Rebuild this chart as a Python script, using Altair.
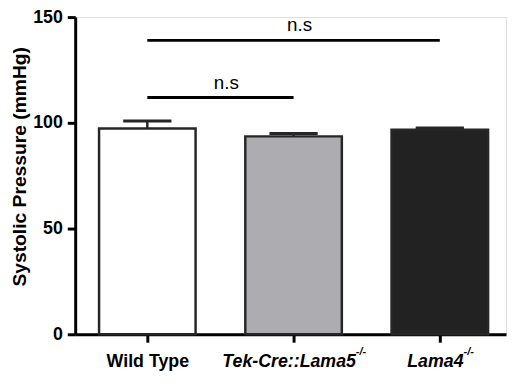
import altair as alt
import pandas as pd

# ---- data ----
categories = ["Wild Type", "Tek-Cre::Lama5", "Lama4"]
superscripts = ["", "-/-", "-/-"]
means = [97.3, 93.6, 96.7]
errors = [3.6, 1.4, 0.9]
fills = ["#ffffff", "#adacb1", "#222222"]

sig_from = [0, 0]
sig_to = [1, 2]
sig_y = [112, 139]
sig_labels = ["n.s", "n.s"]

y_ticks = [0, 50, 100, 150]

# ---- layout constants ----
BAR_HALF = 0.33
CAP_HALF = 0.165
FONT = "Liberation Sans"

bars = pd.DataFrame({
    "idx": list(range(len(categories))),
    "cat": categories,
    "sup": superscripts,
    "mean": means,
    "err": errors,
    "fill": fills,
})
sig = pd.DataFrame({"x0": sig_from, "x1": sig_to, "y": sig_y, "label": sig_labels})

x_scale = alt.Scale(domain=[-0.4932, 2.4527], nice=False, zero=False)
y_scale = alt.Scale(domain=[0, 150], nice=False)

label_expr = "[" + ",".join("'" + c + "'" for c in categories) + "][datum.value]"

x_axis = alt.Axis(
    values=list(range(len(categories))), labelExpr=label_expr, title=None, grid=False,
    domainWidth=3, domainColor="#000", tickWidth=3, tickSize=8, tickColor="#000",
    labelFont=FONT, labelFontSize=18, labelFontWeight="bold", labelColor="#000",
    labelFontStyle={"condition": {"test": "datum.value > 0", "value": "italic"}, "value": "normal"},
    labelOffset={"condition": {"test": "datum.value > 0", "value": -5}, "value": 0},
    labelPadding=11,
)
y_axis = alt.Axis(
    values=y_ticks, title="Systolic Pressure (mmHg)", grid=False,
    titleFont=FONT, titleFontSize=19.5, titleFontWeight="bold", titleColor="#000", titlePadding=3,
    titleY=151, titleAlign="center",
    domainWidth=3, domainColor="#000", tickWidth=3, tickSize=8, tickColor="#000",
    labelFont=FONT, labelFontSize=18, labelFontWeight="bold", labelColor="#000", labelPadding=5,
)

base = alt.Chart(bars).transform_calculate(
    lo=f"datum.idx - {BAR_HALF}",
    hi=f"datum.idx + {BAR_HALF}",
    top="datum.mean + datum.err",
    c0=f"datum.idx - {CAP_HALF}",
    c1=f"datum.idx + {CAP_HALF}",
)

bar_layer = base.mark_rect(stroke="#262626", strokeWidth=2.5).encode(
    x=alt.X("lo:Q", scale=x_scale, axis=x_axis),
    x2="hi:Q",
    y=alt.Y("mean:Q", scale=y_scale, axis=y_axis),
    y2=alt.datum(0),
    fill=alt.Fill("fill:N", scale=None),
)

err_layer = base.mark_rule(color="#262626", strokeWidth=2.5).encode(
    x="idx:Q", y="mean:Q", y2="top:Q"
)
cap_layer = base.mark_rule(color="#262626", strokeWidth=3).encode(
    x="c0:Q", x2="c1:Q", y="top:Q"
)

sig_base = alt.Chart(sig).transform_calculate(mid="(datum.x0 + datum.x1) / 2")
sig_lines = sig_base.mark_rule(color="#000", strokeWidth=3).encode(
    x="x0:Q", x2="x1:Q", y="y:Q"
)
sig_text = sig_base.mark_text(
    font=FONT, fontSize=19, baseline="alphabetic", dy=-9, dx=6, color="#000"
).encode(x="mid:Q", y="y:Q", text="label:N")

sup_style = dict(font=FONT, fontSize=11, fontWeight="bold", fontStyle="italic",
                 align="left", baseline="alphabetic", dy=21, color="#000")
sup1 = alt.Chart(bars).transform_filter("datum.idx == 1").mark_text(dx=63, **sup_style).encode(
    x="idx:Q", y=alt.datum(0), text="sup:N")
sup2 = alt.Chart(bars).transform_filter("datum.idx == 2").mark_text(dx=24, **sup_style).encode(
    x="idx:Q", y=alt.datum(0), text="sup:N")

chart = alt.layer(
    bar_layer, err_layer, cap_layer, sig_lines, sig_text, sup1, sup2
).properties(
    width=436, height=321,
    autosize=alt.AutoSizeParams(type="none"),
    padding={"left": 68, "top": 7, "right": 2, "bottom": 40},
    background="white",
).configure_view(stroke=None).configure(font=FONT)

chart.save("out.html", embed_options={"renderer": "svg", "actions": False})
